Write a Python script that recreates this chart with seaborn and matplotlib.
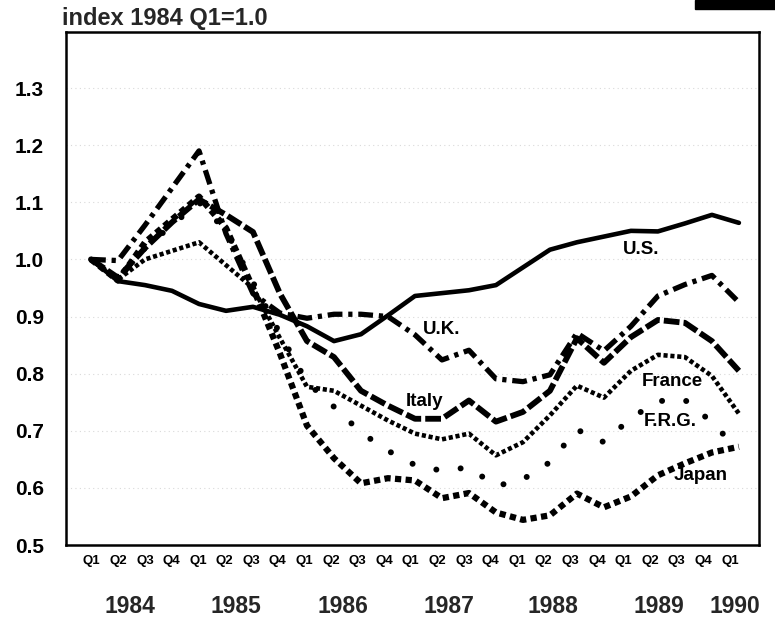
import pandas as pd
import matplotlib
matplotlib.use('Agg')
import matplotlib.pyplot as plt
from matplotlib.patches import Rectangle
import seaborn as sns

# Quarterly index values, 1984 Q1 = 1.0
QUARTERS = ['Q1', 'Q2', 'Q3', 'Q4'] * 6 + ['Q1']
YEARS = ['1984', '1985', '1986', '1987', '1988', '1989', '1990']
YEAR_POS = [1.45, 5.35, 9.35, 13.25, 17.1, 21.05, 23.85]
YTICKS = [0.5, 0.6, 0.7, 0.8, 0.9, 1.0, 1.1, 1.2, 1.3]

US = [1.000, 0.962, 0.955, 0.945, 0.922, 0.910, 0.917, 0.903, 0.883, 0.857, 0.869, 0.902, 0.936,
      0.941, 0.946, 0.955, 0.986, 1.017, 1.030, 1.040, 1.050, 1.049, 1.063, 1.078, 1.064]
UK = [1.000, 0.998, 1.060, 1.125, 1.190, 1.045, 0.940, 0.906, 0.897, 0.904, 0.904, 0.900, 0.868,
      0.824, 0.841, 0.791, 0.786, 0.798, 0.871, 0.840, 0.883, 0.936, 0.956, 0.972, 0.925]
ITALY = [1.000, 0.968, 1.020, 1.065, 1.105, 1.078, 1.048, 0.940, 0.857, 0.829, 0.770, 0.744, 0.721,
         0.721, 0.753, 0.716, 0.733, 0.770, 0.862, 0.819, 0.864, 0.894, 0.889, 0.857, 0.805]
FRANCE = [1.000, 0.965, 1.000, 1.015, 1.030, 0.990, 0.950, 0.862, 0.777, 0.770, 0.744, 0.718, 0.695,
          0.685, 0.695, 0.657, 0.680, 0.727, 0.779, 0.758, 0.805, 0.833, 0.829, 0.796, 0.730]
FRG = [1.000, 0.965, 1.020, 1.060, 1.100, 1.050, 0.960, 0.870, 0.785, 0.742, 0.697, 0.665, 0.640,
       0.630, 0.636, 0.603, 0.615, 0.645, 0.702, 0.680, 0.722, 0.752, 0.754, 0.715, 0.665]
JAPAN = [1.000, 0.963, 1.030, 1.070, 1.110, 1.055, 0.950, 0.835, 0.709, 0.652, 0.608, 0.617, 0.613,
         0.582, 0.591, 0.557, 0.544, 0.552, 0.590, 0.566, 0.585, 0.622, 0.643, 0.662, 0.672]

# label text, position (x, y baseline)
LABELS = {
    'U.S.': (20.37, 1.009),
    'U.K.': (13.0, 0.869),
    'Italy': (12.37, 0.744),
    'France': (21.52, 0.779),
    'F.R.G.': (21.44, 0.709),
    'Japan': (22.59, 0.613),
}

# line styles per series
STYLES = {
    'U.S.': dict(lw=3.3, linestyle='-', solid_capstyle='round'),
    'U.K.': dict(lw=3.8, linestyle=(0, (2.8, 1.1, 0.8, 1.1)), dash_capstyle='butt'),
    'Italy': dict(lw=4.2, linestyle=(0, (2.7, 0.7)), dash_capstyle='butt'),
    'France': dict(lw=3.3, linestyle=(0, (0.9, 0.6)), dash_capstyle='butt'),
    'F.R.G.': dict(lw=4.3, linestyle=(0, (0.01, 4.1)), dash_capstyle='round'),
    'Japan': dict(lw=4.5, linestyle=(0, (1.0, 0.7)), dash_capstyle='butt'),
}

TICK_STEP = 0.985


def build_frame():
    wide = pd.DataFrame({
        'q': range(len(US)),
        'U.S.': US, 'U.K.': UK, 'Italy': ITALY,
        'France': FRANCE, 'F.R.G.': FRG, 'Japan': JAPAN,
    })
    return wide.melt(id_vars='q', var_name='country', value_name='index')


def main():
    df = build_frame()

    sns.set_theme(style='white')
    plt.rcParams['font.family'] = ['Liberation Sans', 'DejaVu Sans']
    plt.rcParams['font.weight'] = 'bold'

    fig = plt.figure(figsize=(7.75, 6.18), dpi=100)
    ax = fig.add_axes([0.0852, 0.1181, 0.894, 0.830])

    ax.grid(axis='y', color='#d9d9d9', lw=0.8, ls=(0, (1, 3)))
    ax.set_axisbelow(True)

    for name in STYLES:
        sns.lineplot(data=df[df['country'] == name], x='q', y='index', ax=ax,
                     color='black', errorbar=None, legend=False, **STYLES[name])
        x, y = LABELS[name]
        ax.text(x, y, name, ha='center', va='baseline', fontsize=13.5,
                fontweight='bold', color='black')

    ax.set_xlim(-0.926, 24.74)
    ax.set_ylim(0.5, 1.398)
    ax.set_xlabel('')
    ax.set_ylabel('')

    ax.set_xticks([0.026 + k * TICK_STEP for k in range(len(QUARTERS))])
    ax.set_xticklabels(QUARTERS, fontsize=9.5, fontweight='bold')
    ax.tick_params(axis='x', direction='out', length=5, width=1.3, pad=2, colors='black')

    ax.set_yticks(YTICKS)
    ax.set_yticklabels([f'{v:.1f}' for v in YTICKS], fontsize=15, fontweight='bold')
    ax.tick_params(axis='y', direction='in', length=10, width=1.5, pad=16, colors='black')

    for side in ['left', 'right', 'top', 'bottom']:
        ax.spines[side].set_visible(True)
        ax.spines[side].set_color('black')
        ax.spines[side].set_linewidth(1.8)

    for yr, pos in zip(YEARS, YEAR_POS):
        ax.annotate(yr, xy=(pos, -0.119), xycoords=('data', 'axes fraction'),
                    ha='center', va='center', fontsize=16.5, fontweight='bold',
                    annotation_clip=False)

    fig.text(62 / 775, 1 - 25 / 618, 'index 1984 Q1=1.0', fontsize=17,
             fontweight='bold', va='baseline', ha='left')

    # small dark stamp in the top right corner
    fig.patches.append(Rectangle((695 / 775, 609 / 618), 80 / 775, 9 / 618,
                                 transform=fig.transFigure, color='black'))

    fig.savefig('out.png', dpi=100)


if __name__ == "__main__":
    main()
